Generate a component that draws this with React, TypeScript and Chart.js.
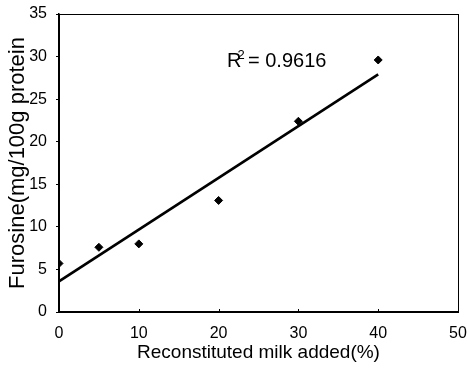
import React, { useEffect, useRef } from "react";
import { Chart, registerables } from "chart.js";

Chart.register(...registerables);

const milkAdded = [0, 5, 10, 20, 30, 40];
const furosine = [5.7, 7.6, 8.0, 13.1, 22.4, 29.6];
const fitX = [0, 40];
const fitY = [3.6, 27.9];
const xTicks = [0, 10, 20, 30, 40, 50];
const yTicks = [0, 5, 10, 15, 20, 25, 30, 35];
const r2Label = "0.9616";
const r2Pos = { x: 21.05, y: 28.8 };

const tickFont = "'Liberation Sans Narrow', 'Liberation Sans', Arial, sans-serif";
const mainFont = "'Liberation Sans', Arial, sans-serif";

const framePlugin = {
  id: "frame",
  afterDraw(chart: any) {
    const { ctx, chartArea, scales } = chart;
    ctx.save();
    ctx.strokeStyle = "#000";
    ctx.lineWidth = 1;
    ctx.strokeRect(chartArea.left + 0.5, chartArea.top + 0.5, chartArea.right - chartArea.left, chartArea.bottom - chartArea.top);
    const xs = scales.x;
    ctx.beginPath();
    xTicks.forEach((v) => {
      if (v === 0 || v === 50) return;
      const px = Math.round(xs.getPixelForValue(v)) + 0.5;
      ctx.moveTo(px, chartArea.bottom);
      ctx.lineTo(px, chartArea.bottom - 3);
    });
    ctx.stroke();
    const px = xs.getPixelForValue(r2Pos.x);
    const py = scales.y.getPixelForValue(r2Pos.y);
    ctx.fillStyle = "#000";
    ctx.textBaseline = "alphabetic";
    ctx.textAlign = "left";
    ctx.font = `20px ${mainFont}`;
    ctx.fillText("R", px, py);
    const rw = ctx.measureText("R").width;
    ctx.font = `13px ${mainFont}`;
    ctx.fillText("2", px + rw - 4, py - 8);
    ctx.font = `20px ${mainFont}`;
    ctx.fillText(" = " + r2Label, px + rw + 1, py);
    ctx.restore();
  },
};

export default function App() {
  const ref = useRef<HTMLCanvasElement | null>(null);
  useEffect(() => {
    document.body.style.margin = "0";
    const chart = new Chart(ref.current as HTMLCanvasElement, {
      type: "scatter",
      data: {
        datasets: [
          {
            label: "Furosine",
            data: milkAdded.map((x, i) => ({ x, y: furosine[i] })),
            pointStyle: "rectRot",
            pointRadius: 4,
            backgroundColor: "#000",
            borderColor: "#000",
            borderWidth: 1,
          },
          {
            label: "Fit",
            type: "line",
            data: fitX.map((x, i) => ({ x, y: fitY[i] })),
            borderColor: "#000",
            borderWidth: 2.6,
            pointRadius: 0,
            fill: false,
          } as any,
        ],
      },
      options: {
        animation: false,
        responsive: false,
        devicePixelRatio: 1,
        layout: { padding: { top: 14, right: 9, left: 0, bottom: 0 } },
        plugins: { legend: { display: false }, tooltip: { enabled: false } },
        scales: {
          x: {
            type: "linear",
            min: 0,
            max: 50,
            afterBuildTicks: (s: any) => {
              s.ticks = xTicks.map((v) => ({ value: v }));
            },
            afterFit: (s: any) => {
              s.height = 65;
              s.paddingLeft = 0;
              s.paddingRight = 0;
            },
            grid: { display: false, drawTicks: false },
            border: { display: true, color: "#000", width: 1.5 },
            ticks: {
              color: "#000",
              padding: 12,
              maxRotation: 0,
              font: { family: tickFont, size: 16 },
            },
            title: {
              display: true,
              text: "Reconstituted milk added(%)",
              color: "#000",
              font: { family: mainFont, size: 19, lineHeight: 1 },
              padding: { top: 0, bottom: 15 },
            },
          },
          y: {
            type: "linear",
            min: 0,
            max: 35,
            afterBuildTicks: (s: any) => {
              s.ticks = yTicks.map((v) => ({ value: v }));
            },
            afterFit: (s: any) => {
              s.width = 59;
              s.paddingTop = 0;
              s.paddingBottom = 0;
            },
            grid: { display: true, drawOnChartArea: false, drawTicks: true, tickLength: 3, color: "#000" },
            border: { display: true, color: "#000", width: 1.5 },
            ticks: {
              color: "#000",
              padding: 9,
              font: { family: tickFont, size: 16 },
            },
            title: {
              display: true,
              text: "Furosine(mg/100g protein",
              color: "#000",
              font: { family: mainFont, size: 22, lineHeight: 1 },
              padding: { top: 7, bottom: 0 },
            },
          },
        },
      },
      plugins: [framePlugin],
    });
    return () => chart.destroy();
  }, []);
  return (
    <div style={{ position: "fixed", left: 0, top: 0, width: 467, height: 377, background: "#fff" }}>
      <canvas ref={ref} width={467} height={377} />
    </div>
  );
}
